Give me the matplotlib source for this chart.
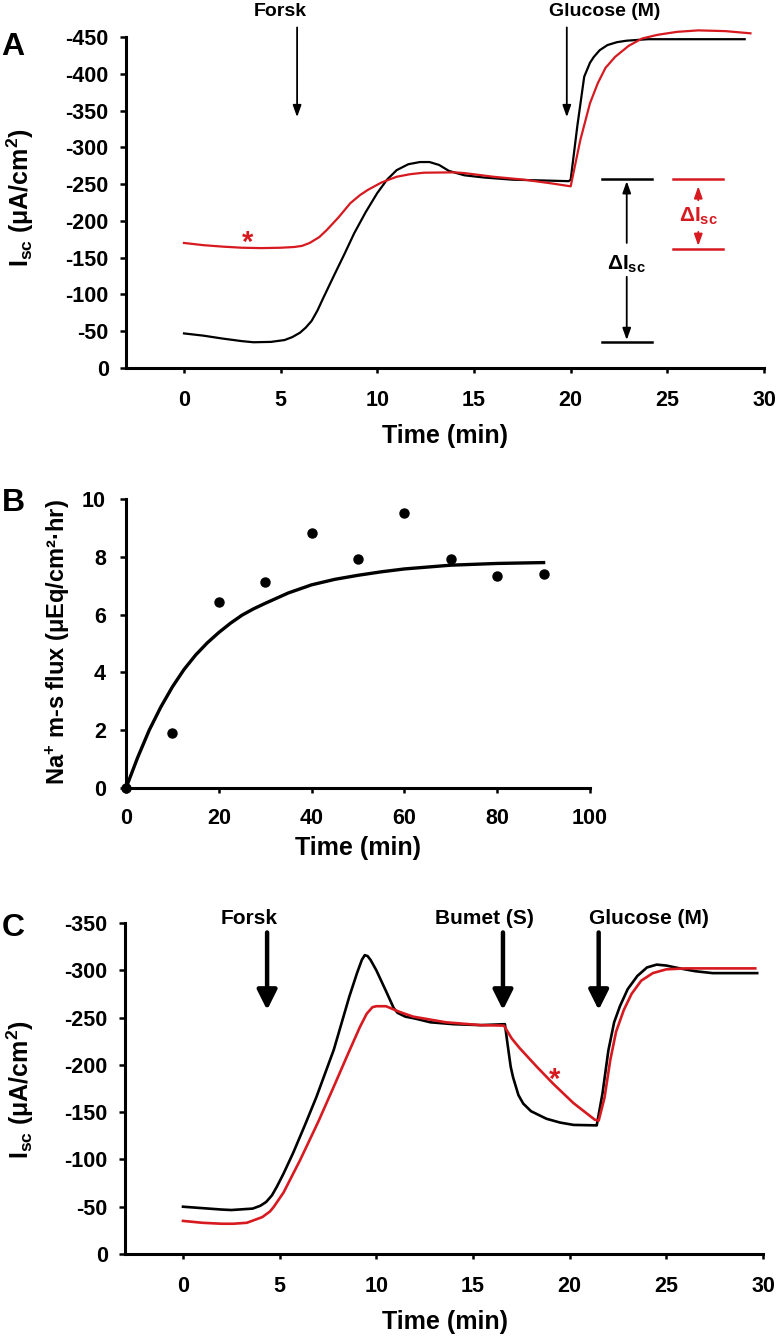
import matplotlib
matplotlib.use("Agg")
import matplotlib.pyplot as plt

plt.rcParams['font.family'] = ['Liberation Sans', 'DejaVu Sans']
plt.rcParams['font.weight'] = 'bold'
plt.rcParams['mathtext.fontset'] = 'custom'
plt.rcParams['mathtext.rm'] = 'Liberation Sans:bold'
plt.rcParams['mathtext.bf'] = 'Liberation Sans:bold'
plt.rcParams['mathtext.it'] = 'Liberation Sans:bold'
plt.rcParams['mathtext.sf'] = 'Liberation Sans:bold'

# ---------------- Panel A data ----------------
a_black_t = [0, 1, 2, 3, 3.6, 4.5, 5.2, 5.6, 6.0, 6.3, 6.6, 6.9, 7.2, 7.8, 8.3, 8.8, 9.4,
             10.0, 10.5, 11.0, 11.6, 12.2, 12.7, 13.2, 13.7, 14.5, 15.5, 17.0, 18.5,
             19.9, 20.0, 20.35, 20.7, 21.0, 21.2, 21.5, 21.9, 22.4, 22.9, 24.0, 26.0,
             29.0]
a_black_v = [-47, -44, -40, -36.5, -35, -35.5, -38, -42, -48, -55, -64, -78, -95, -128,
             -155, -183, -212, -238, -256, -269, -277, -280, -280, -276, -268, -262,
             -259, -256, -255, -254, -256, -330, -396, -415, -423, -432, -439, -443,
             -445, -447, -447, -447]
a_red_t = [0, 1, 2, 3, 4, 5, 5.7, 6.1, 6.5, 7, 7.4, 8, 8.6, 9.1, 9.5, 10.2, 11, 11.7,
           12.4, 14, 14.5, 16, 17.6, 19, 20.0, 20.5, 21.0, 21.4, 21.8, 22.3, 23.0, 23.7,
           24.5, 25.5, 26.6, 28, 29.3]
a_red_v = [-170, -167, -165, -163.5, -163, -163.5, -164.5, -166, -170, -178, -188, -205,
           -224, -235, -242, -252, -260, -263.5, -265.5, -266, -265, -260, -256, -251,
           -247, -310, -360, -387, -408, -423, -438, -448, -453, -457, -459, -458, -455]
a_yticks = [0, -50, -100, -150, -200, -250, -300, -350, -400, -450]
a_xticks = [0, 5, 10, 15, 20, 25, 30]
a_forsk_t = 5.85
a_gluc_t = 19.8
a_delta_black = [-257, -35]   # black delta Isc bracket levels
a_delta_red = [-257, -162]    # red delta Isc bracket levels

# ---------------- Panel B data ----------------
b_pts_t = [0, 10, 20, 30, 40, 50, 60, 70, 80, 90]
b_pts_v = [0, 1.9, 6.42, 7.12, 8.81, 7.91, 9.53, 7.91, 7.32, 7.41]
b_fit_t = [0, 2.5, 5, 7.5, 10, 12.5, 15, 17.5, 20, 22.5, 25, 27.5, 30, 35, 40, 45, 50,
           55, 60, 70, 80, 90]
b_fit_v = [0, 1.05, 2.0, 2.8, 3.5, 4.1, 4.6, 5.02, 5.38, 5.7, 5.98, 6.2, 6.39, 6.75,
           7.03, 7.22, 7.36, 7.48, 7.58, 7.71, 7.77, 7.8]
b_yticks = [0, 2, 4, 6, 8, 10]
b_xticks = [0, 20, 40, 60, 80, 100]

# ---------------- Panel C data ----------------
c_black_t = [0, 1, 2, 2.5, 3.6, 4.0, 4.3, 4.6, 4.85, 5.2, 5.7, 6.3, 6.9, 7.8, 8.6, 9.0,
             9.25, 9.4, 9.55, 9.7, 10.0, 10.5, 10.9, 11.1, 11.5, 12.0, 12.8, 14.0, 15.4,
             16.65, 16.8, 16.95, 17.07, 17.35, 17.6, 18.0, 18.8, 19.5, 20.2, 21.4, 21.7,
             22.0, 22.3, 22.6, 23.0, 23.5, 24.0, 24.5, 25.0, 25.7, 26.5, 27.4, 29.7]
c_black_v = [-50, -48.5, -47, -46.5, -48, -51, -55, -62, -71, -85, -107, -136, -166,
             -216, -272, -297, -311, -316, -315, -311, -300, -278, -260, -255, -251,
             -249, -245, -243, -242, -243, -220, -198, -187, -168, -159, -151, -143,
             -139, -136.5, -136, -170, -215, -245, -262, -280, -294, -303, -306, -305,
             -302, -299, -297, -297]
c_red_t = [0, 1, 2, 2.6, 3.3, 4.1, 4.5, 4.7, 5.2, 6.05, 7.0, 7.8, 8.5, 9.15, 9.5, 9.8,
           10.0, 10.5, 11.2, 11.9, 13.6, 15.4, 16.6, 17.0, 17.4, 18.3, 19.15, 20.2,
           21.3, 21.5, 21.8, 22.1, 22.4, 22.8, 23.2, 23.7, 24.3, 25.0, 26.0, 29.6]
c_red_v = [-35, -33, -32, -32, -33, -39, -45, -50, -65, -99, -140, -177, -210, -240,
           -254, -261, -262, -262, -256, -251, -245, -242, -241.5, -228, -218, -198,
           -180, -159.5, -142, -141, -165, -205, -235, -258, -275, -289, -297, -301,
           -302, -302]
c_yticks = [0, -50, -100, -150, -200, -250, -300, -350]
c_xticks = [0, 5, 10, 15, 20, 25, 30]
c_forsk_t = 4.35
c_bumet_t = 16.55
c_gluc_t = 21.5

RED = '#d71920'
W, H = 780, 1339
fig = plt.figure(figsize=(W / 100, H / 100), dpi=100)


def fx(x):
    return x / W


def fy(y):
    return 1 - y / H


def make_axes(left, right, top, bottom):
    return fig.add_axes([fx(left), fy(bottom), fx(right) - fx(left), fy(top) - fy(bottom)])


TICK = 15.5
LAB = 18


def style(ax, xpad=12, ypad=8):
    for s in ['top', 'right']:
        ax.spines[s].set_visible(False)
    for s in ['left', 'bottom']:
        ax.spines[s].set_linewidth(2.2)
    ax.tick_params(axis='x', direction='out', length=3.5, width=1.8, pad=xpad,
                   labelsize=TICK)
    ax.tick_params(axis='y', direction='out', length=4.5, width=1.8, pad=ypad,
                   labelsize=TICK)
    for lab in ax.get_xticklabels() + ax.get_yticklabels():
        lab.set_fontweight('bold')


ylab_isc = r'$\mathbf{I_{sc}}$' + ' (μA/cm' + r'$\mathbf{^2}$' + ')'

# ================= Panel A =================
axA = make_axes(126, 764, 37, 368)
axA.plot(a_black_t, a_black_v, color='black', lw=1.6, solid_joinstyle='round', clip_on=False)
axA.plot(a_red_t, a_red_v, color=RED, lw=1.6, solid_joinstyle='round', clip_on=False)
axA.set_xlim(-3, 30)
axA.set_ylim(0, -450)
axA.set_xticks(a_xticks)
axA.set_yticks(a_yticks)
axA.set_yticklabels([str(v) for v in a_yticks])
style(axA)

thin = dict(arrowstyle='-|>,head_length=0.7,head_width=0.25', color='black', lw=1.3,
            shrinkA=0, shrinkB=0, mutation_scale=10)
axA.annotate('', xy=(a_forsk_t, -341), xytext=(a_forsk_t, -463), arrowprops=thin,
             annotation_clip=False)
axA.annotate('', xy=(a_gluc_t, -341), xytext=(a_gluc_t, -463), arrowprops=thin,
             annotation_clip=False)
fig.text(fx(280), fy(12), 'Forsk', ha='center', va='center', fontsize=14, fontweight='bold')
fig.text(fx(605), fy(12), 'Glucose (M)', ha='center', va='center', fontsize=14,
         fontweight='bold')
axA.text(3.3, -170, '*', color=RED, fontsize=21, fontweight='bold', ha='center',
         va='center')

# black delta bracket
axA.plot([21.6, 24.2], [a_delta_black[0]] * 2, color='black', lw=1.8)
axA.plot([21.6, 24.2], [a_delta_black[1]] * 2, color='black', lw=1.8)
axA.annotate('', xy=(22.9, -254), xytext=(22.9, -170), arrowprops=thin)
axA.annotate('', xy=(22.9, -38), xytext=(22.9, -124), arrowprops=thin)
axA.text(22.9, -141, r'$\mathbf{\Delta I_{sc}}$', ha='center', va='center', fontsize=15)
# red delta bracket
thin_r = dict(thin, color=RED)
axA.plot([25.3, 27.9], [a_delta_red[0]] * 2, color=RED, lw=1.8)
axA.plot([25.3, 27.9], [a_delta_red[1]] * 2, color=RED, lw=1.8)
axA.annotate('', xy=(26.6, -247), xytext=(26.6, -228), arrowprops=thin_r)
axA.annotate('', xy=(26.6, -166), xytext=(26.6, -185), arrowprops=thin_r)
axA.text(26.6, -206, r'$\mathbf{\Delta I_{sc}}$', ha='center', va='center', fontsize=15,
         color=RED)

fig.text(fx(20), fy(198), ylab_isc, rotation=90, ha='center', va='center', fontsize=LAB,
         fontweight='bold')
fig.text(fx(445), fy(436), 'Time (min)', ha='center', va='center', fontsize=LAB,
         fontweight='bold')
fig.text(fx(13), fy(47), 'A', ha='center', va='center', fontsize=23, fontweight='bold')

# ================= Panel B =================
axB = make_axes(126, 590, 499, 788)
axB.plot(b_fit_t, b_fit_v, color='black', lw=2.4, solid_joinstyle='round')
axB.plot(b_pts_t, b_pts_v, 'o', color='black', ms=6.5, clip_on=False)
axB.set_xlim(0, 100)
axB.set_ylim(0, 10)
axB.set_xticks(b_xticks)
axB.set_yticks(b_yticks)
style(axB, xpad=11, ypad=10)
fig.text(fx(58), fy(642), r'$\mathbf{Na^{+}}$' + ' m-s flux (μEq/cm²·hr)', rotation=90,
         ha='center', va='center', fontsize=17, fontweight='bold')
fig.text(fx(358), fy(848), 'Time (min)', ha='center', va='center', fontsize=LAB,
         fontweight='bold')
fig.text(fx(13), fy(503), 'B', ha='center', va='center', fontsize=23, fontweight='bold')

# ================= Panel C =================
axC = make_axes(125, 763, 923, 1254)
axC.plot(c_black_t, c_black_v, color='black', lw=1.9, solid_joinstyle='round', clip_on=False)
axC.plot(c_red_t, c_red_v, color=RED, lw=1.9, solid_joinstyle='round', clip_on=False)
axC.set_xlim(-3, 30)
axC.set_ylim(0, -350)
axC.set_xticks(c_xticks)
axC.set_yticks(c_yticks)
axC.set_yticklabels([str(v) for v in c_yticks])
style(axC)

thick = dict(arrowstyle='-|>,head_length=0.6,head_width=0.3', color='black', lw=3.2,
             shrinkA=0, shrinkB=0, mutation_scale=20)
for t in [c_forsk_t, c_bumet_t, c_gluc_t]:
    axC.annotate('', xy=(t, -258), xytext=(t, -340), arrowprops=thick,
                 annotation_clip=False)
fig.text(fx(249), fy(918), 'Forsk', ha='center', va='center', fontsize=15, fontweight='bold')
fig.text(fx(484), fy(918), 'Bumet (S)', ha='center', va='center', fontsize=15,
         fontweight='bold')
fig.text(fx(649), fy(918), 'Glucose (M)', ha='center', va='center', fontsize=15,
         fontweight='bold')
axC.text(19.2, -184, '*', color=RED, fontsize=21, fontweight='bold', ha='center',
         va='center')

fig.text(fx(20), fy(1090), ylab_isc, rotation=90, ha='center', va='center', fontsize=LAB,
         fontweight='bold')
fig.text(fx(445), fy(1322), 'Time (min)', ha='center', va='center', fontsize=LAB,
         fontweight='bold')
fig.text(fx(13), fy(928), 'C', ha='center', va='center', fontsize=23, fontweight='bold')

fig.savefig('out.png', dpi=100)
